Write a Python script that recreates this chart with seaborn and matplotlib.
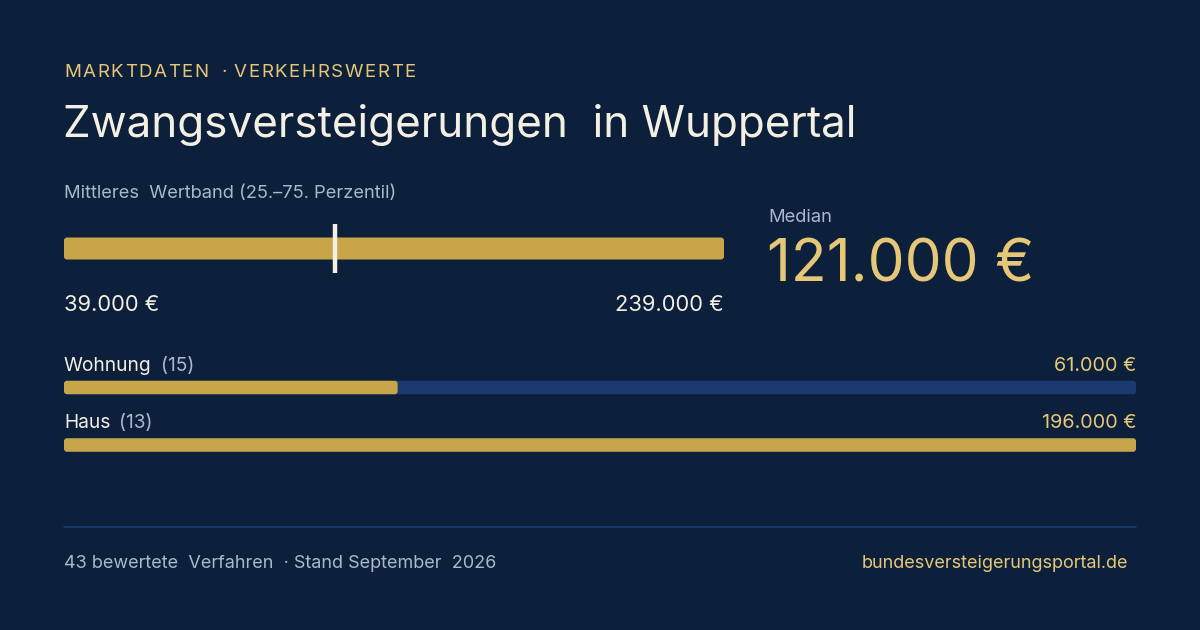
import numpy as np
import pandas as pd
import seaborn as sns
import matplotlib.pyplot as plt
from matplotlib.patches import FancyBboxPatch

# データ
band_low = 39000
band_high = 239000
median_value = 121000
categories = ["Wohnung", "Haus"]
category_counts = [15, 13]
category_medians = [61000, 196000]
n_cases = 43
stand = "September  2026"

BG = "#0c1f3b"
GOLD = "#c9a54a"
GOLD_TXT = "#e6c777"
TRACK = "#1b3a6f"
CREAM = "#f4efe3"
MUTED = "#a9b8d0"

sns.set_theme(style="white")
plt.rcParams["font.family"] = ["Inter", "DejaVu Sans"]

W, H = 1200, 630
fig = plt.figure(figsize=(W / 100, H / 100), dpi=100, facecolor=BG)
renderer = fig.canvas.get_renderer()


def fx(x):
    return x / W


def fy(y):
    return 1 - y / H


def euro(v):
    return f"{v:,.0f}".replace(",", ".") + " €"


def tracked_text(x, y, s, tracking, **kw):
    # 文字間隔をあけて1文字ずつ描く
    for ch in s:
        t = fig.text(fx(x), fy(y), ch, va="baseline", ha="left", **kw)
        w = t.get_window_extent(renderer).width if ch != " " else kw["fontsize"] * 0.3
        x += w + tracking


def round_patches(ax, radius_px):
    # 棒の角を少し丸くする
    fig.canvas.draw()
    bb = ax.get_window_extent(renderer)
    x0, x1 = ax.get_xlim()
    y0, y1 = ax.get_ylim()
    xpu = abs(x1 - x0) / bb.width
    ypu = abs(y1 - y0) / bb.height
    for p in list(ax.patches):
        x, y = p.get_x(), p.get_y()
        w, h = p.get_width(), p.get_height()
        fb = FancyBboxPatch((x, y), w, h,
                            boxstyle=f"round,pad=0,rounding_size={radius_px * xpu}",
                            mutation_aspect=ypu / xpu, facecolor=p.get_facecolor(),
                            edgecolor="none", zorder=p.get_zorder())
        p.remove()
        ax.add_patch(fb)


# 見出し
tracked_text(64, 77, "MARKTDATEN  · VERKEHRSWERTE", 1.6, color=GOLD_TXT, fontsize=13.5)
fig.text(fx(63), fy(137), "Zwangsversteigerungen  in Wuppertal", color=CREAM,
         fontsize=31.7, va="baseline", ha="left")
fig.text(fx(64), fy(198), "Mittleres  Wertband (25.–75. Perzentil)", color=MUTED,
         fontsize=13.2, va="baseline", ha="left")

# 中央値の帯
ax_band = fig.add_axes([fx(64), fy(273), fx(724 - 64), (273 - 224) / H])
ax_band.set_facecolor("none")
band_df = pd.DataFrame({"row": ["band"], "low": [band_low], "span": [band_high - band_low]})
ax_band.barh(band_df["row"], band_df["span"], left=band_df["low"], height=22 / 49,
             color=GOLD, edgecolor="none")
ax_band.set_xlim(band_low, band_high)
ax_band.set_ylim(-0.5, 0.5)
ax_band.axis("off")
round_patches(ax_band, 3)
ax_band.axvline(median_value, ymin=0, ymax=1, color=CREAM, lw=3.2, solid_capstyle="butt")

fig.text(fx(64), fy(311), euro(band_low), color=CREAM, fontsize=15.8,
         va="baseline", ha="left")
fig.text(fx(724), fy(311), euro(band_high), color=CREAM, fontsize=15.8,
         va="baseline", ha="right")

fig.text(fx(768), fy(222), "Median", color=MUTED, fontsize=13.2,
         va="baseline", ha="left")
fig.text(fx(767), fy(281), euro(median_value), color=GOLD_TXT, fontsize=42.3,
         va="baseline", ha="left")

# 種別ごとのバー
cat_df = pd.DataFrame({"kategorie": categories, "median": category_medians,
                       "anzahl": category_counts})
vmax = max(category_medians)
step = 445 - 387.5
top = 387.5 - step / 2
ax_cat = fig.add_axes([fx(64), fy(top + 2 * step), fx(1136 - 64), 2 * step / H])
ax_cat.set_facecolor("none")
sns.barplot(data=cat_df.assign(track=vmax), y="kategorie", x="track", orient="h",
            color=TRACK, saturation=1, width=13.5 / step, ax=ax_cat)
sns.barplot(data=cat_df, y="kategorie", x="median", orient="h",
            color=GOLD, saturation=1, width=13.5 / step, ax=ax_cat)
ax_cat.set_xlim(0, vmax)
ax_cat.set_ylim(1.5, -0.5)
ax_cat.axis("off")
round_patches(ax_cat, 3)

for i, row in cat_df.iterrows():
    base = 371 + i * step - (i * 0.5)
    t = fig.text(fx(64), fy(base), row["kategorie"], color=CREAM, fontsize=13.8,
                 va="baseline", ha="left")
    bb = t.get_window_extent(renderer)
    fig.text((bb.x1 + 9) / W, fy(base), f"({row['anzahl']})", color=MUTED,
             fontsize=13.8, va="baseline", ha="left")
    fig.text(fx(1136), fy(base), euro(row["median"]), color=GOLD_TXT, fontsize=14.3,
             va="baseline", ha="right")

# フッター
fig.add_artist(plt.Line2D([fx(64), fx(1136)], [fy(526.5), fy(526.5)],
                          color=TRACK, lw=1.2))
fig.text(fx(64), fy(568), f"{n_cases} bewertete  Verfahren  · Stand {stand}",
         color=MUTED, fontsize=13, va="baseline", ha="left")
fig.text(fx(1128), fy(568), "bundesversteigerungsportal.de", color=GOLD_TXT,
         fontsize=13, va="baseline", ha="right")

fig.savefig("out.png", dpi=100, facecolor=BG)
